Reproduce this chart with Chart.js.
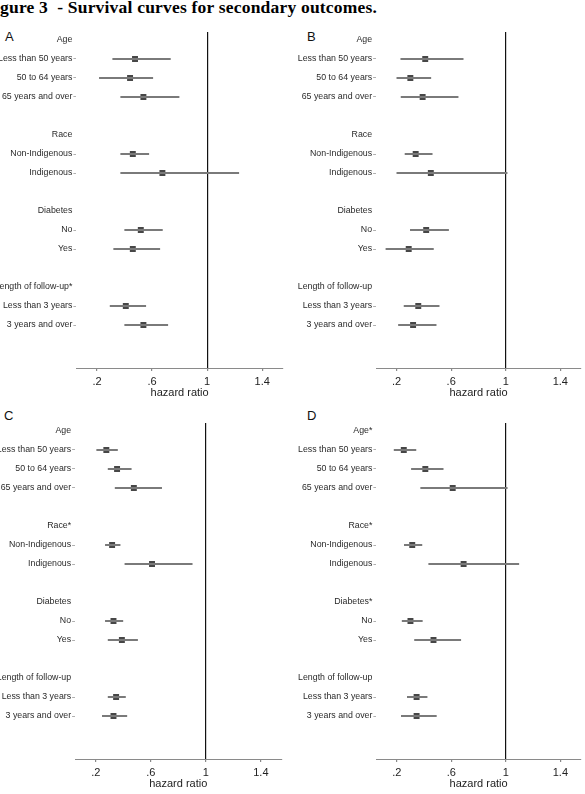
<!DOCTYPE html>
<html>
<head>
<meta charset="utf-8">
<script src="https://cdn.jsdelivr.net/npm/chart.js@4.4.0/dist/chart.umd.min.js"></script>
<style>
  body { margin: 0; background: #fff; }
  #page { position: relative; width: 585px; height: 794px; overflow: hidden; }
  canvas { position: absolute; }
  .title { position: absolute; left: 0; top: -3px; font: bold 17.5px "Liberation Serif", serif; letter-spacing: 0.2px; white-space: pre; color: #000; }
  .letter { position: absolute; font: 13px "Liberation Sans", Arial, sans-serif; color: #111; }
</style>
</head>
<body>
<div id="page">
  <div class="title">gure 3  - Survival curves for secondary outcomes.</div>
  <div class="letter" style="left:5px; top:29px;">A</div>
  <div class="letter" style="left:307px; top:29px;">B</div>
  <div class="letter" style="left:4px; top:408px;">C</div>
  <div class="letter" style="left:307px; top:408px;">D</div>
  <canvas id="chartA" width="290" height="402" style="left:0; top:0;"></canvas>
  <canvas id="chartB" width="295" height="402" style="left:290px; top:0;"></canvas>
  <canvas id="chartC" width="290" height="402" style="left:0; top:391px;"></canvas>
  <canvas id="chartD" width="295" height="402" style="left:290px; top:391px;"></canvas>
</div>
<script>
// rows of the plot (0 = top)
const headerRows = [0, 5, 9, 13];
const subgroupRows = [1, 2, 3, 6, 7, 10, 11, 14, 15];
const subgroups = ["Less than 50 years", "50 to 64 years", "65 years and over",
  "Non-Indigenous", "Indigenous", "No", "Yes", "Less than 3 years", "3 years and over"];

const headersA = ["Age", "Race", "Diabetes", "Length of follow-up*"];
const headersB = ["Age", "Race", "Diabetes", "Length of follow-up"];
const headersC = ["Age", "Race*", "Diabetes", "Length of follow-up"];
const headersD = ["Age*", "Race*", "Diabetes*", "Length of follow-up"];

// hazard ratios and 95% CI
const hrA = [0.476, 0.44, 0.537, 0.46, 0.675, 0.518, 0.46, 0.409, 0.537];
const loA = [0.314, 0.217, 0.372, 0.372, 0.372, 0.401, 0.321, 0.295, 0.401];
const hiA = [0.733, 0.605, 0.796, 0.576, 1.23, 0.675, 0.656, 0.554, 0.714];

const hrB = [0.41, 0.301, 0.391, 0.34, 0.451, 0.417, 0.289, 0.359, 0.321];
const loB = [0.231, 0.202, 0.233, 0.262, 0.202, 0.301, 0.122, 0.255, 0.214];
const hiB = [0.688, 0.451, 0.651, 0.461, 1.01, 0.581, 0.47, 0.512, 0.49];

const hrC = [0.277, 0.355, 0.477, 0.319, 0.609, 0.329, 0.39, 0.348, 0.329];
const loC = [0.207, 0.29, 0.341, 0.27, 0.412, 0.27, 0.29, 0.29, 0.248];
const hiC = [0.358, 0.458, 0.679, 0.377, 0.901, 0.397, 0.504, 0.416, 0.426];

const hrD = [0.251, 0.409, 0.61, 0.313, 0.69, 0.3, 0.469, 0.345, 0.345];
const loD = [0.18, 0.307, 0.375, 0.255, 0.434, 0.239, 0.33, 0.277, 0.233];
const hiD = [0.34, 0.54, 1.01, 0.384, 1.095, 0.387, 0.669, 0.422, 0.49];

const xTicks = [0.2, 0.6, 1, 1.4];
const xTickLabels = [".2", ".6", "1", "1.4"];

const font = "'Liberation Sans', Arial, sans-serif";

function makePanel(id, headers, hr, lo, hi, yWidth, padRight) {
  const rowText = {};
  headerRows.forEach((r, i) => rowText[r] = headers[i]);
  subgroupRows.forEach((r, i) => rowText[r] = subgroups[i]);
  const allRows = headerRows.concat(subgroupRows).sort((a, b) => a - b);

  new Chart(document.getElementById(id), {
    type: "bar",
    data: {
      datasets: [
        {
          type: "bar",
          data: subgroupRows.map((r, i) => ({ y: r, x: [lo[i], hi[i]] })),
          backgroundColor: "#7a7a7a",
          barThickness: 1.2,
          grouped: false
        },
        {
          type: "scatter",
          data: subgroupRows.map((r, i) => ({ y: r, x: hr[i] })),
          pointStyle: "rect",
          pointRadius: 4.2,
          backgroundColor: "#474747",
          borderWidth: 0
        }
      ]
    },
    options: {
      indexAxis: "y",
      responsive: false,
      animation: false,
      events: [],
      layout: { padding: { top: 32, right: padRight, bottom: 0, left: 0 } },
      plugins: { legend: { display: false }, tooltip: { enabled: false } },
      scales: {
        x: {
          type: "linear",
          min: 0.05,
          max: 1.55,
          afterBuildTicks: s => { s.ticks = xTicks.map(v => ({ value: v })); },
          afterFit: s => { s.height = 34; },
          ticks: {
            font: { family: font, size: 11 },
            color: "#222",
            padding: 4,
            callback: v => xTickLabels[xTicks.indexOf(v)]
          },
          grid: {
            color: c => (c.tick && c.tick.value === 1) ? "#111" : "transparent",
            lineWidth: 1.2,
            tickColor: "#888",
            tickLength: 3
          },
          border: { display: true, color: "#8a8a8a", width: 1 },
          title: {
            display: true,
            text: "hazard ratio",
            font: { family: font, size: 11 },
            color: "#222",
            padding: { top: 0, bottom: 2.7 }
          }
        },
        y: {
          type: "linear",
          reverse: true,
          offset: false,
          min: -0.42,
          max: 17.26,
          afterBuildTicks: s => { s.ticks = allRows.map(v => ({ value: v })); },
          afterFit: s => { s.width = yWidth; },
          ticks: {
            autoSkip: false,
            font: { family: font, size: 8.8 },
            color: "#2a2a2a",
            padding: 1,
            callback: v => rowText[v]
          },
          grid: {
            offset: false,
            drawOnChartArea: false,
            tickLength: 3,
            tickColor: c => (c.tick && headerRows.includes(c.tick.value)) ? "transparent" : "#b0b0b0"
          },
          border: { display: false }
        }
      }
    }
  });
}

makePanel("chartA", headersA, hrA, loA, hiA, 76.4, 7.2);
makePanel("chartB", headersB, hrB, loB, hiB, 86.1, 2.5);
makePanel("chartC", headersC, hrC, loC, hiC, 75.1, 8.5);
makePanel("chartD", headersD, hrD, loD, hiD, 86.4, 2.2);
</script>
</body>
</html>
